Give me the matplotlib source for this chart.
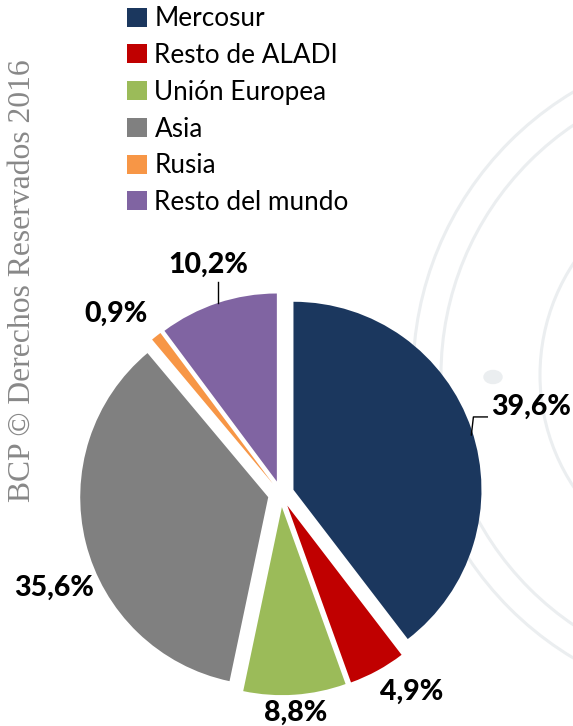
import matplotlib.pyplot as plt
import matplotlib.patches as mpatches
import numpy as np

# data
regiones = ['Mercosur', 'Resto de ALADI', 'Unión Europea', 'Asia', 'Rusia', 'Resto del mundo']
valores = [39.6, 4.9, 8.8, 35.6, 0.9, 10.2]
etiquetas = ['39,6%', '4,9%', '8,8%', '35,6%', '0,9%', '10,2%']
colores = ['#1b375e', '#c00000', '#9bbb59', '#808080', '#f79646', '#8064a2']

# label placement (radius, angle tweak in degrees)
lab_r = [1.408, 1.263, 1.168, 1.307, 1.299, 1.278]
lab_da = [0.5, 4.9, -0.1, 8.5, 4.2, -0.7]

W, H = 573, 726
fig = plt.figure(figsize=(W / 100, H / 100), dpi=100)

# faint seal watermark on the right
bg = fig.add_axes([0, 0, 1, 1])
bg.set_xlim(0, W)
bg.set_ylim(H, 0)
bg.axis('off')
for rr in [330, 302, 203]:
    bg.add_patch(mpatches.Circle((743, 375), rr, fill=False, ec='#ebeef0', lw=2.2))
bg.add_patch(mpatches.Ellipse((493, 377), 18, 13, color='#ebeef0'))

# watermark text
fig.text(22 / W, 1 - 281 / H, 'BCP © Derechos Reservados 2016', rotation=90,
         ha='center', va='center', fontsize=22.8, color='#888888',
         family='Liberation Serif')

# pie axes: center (281, 494) px, 188 px per unit
cx, cy, s = 281, 494, 188
half = 1.6
ax = fig.add_axes([(cx - half * s) / W, (H - cy - half * s) / H,
                   2 * half * s / W, 2 * half * s / H])

wedges, _ = ax.pie(valores, colors=colores, startangle=90, counterclock=False,
                   explode=[0.07] * len(valores), radius=1.0,
                   wedgeprops=dict(linewidth=0))
ax.set_xlim(-half, half)
ax.set_ylim(-half, half)
ax.set_aspect('equal')
ax.axis('off')

for w, lab, r, da in zip(wedges, etiquetas, lab_r, lab_da):
    mid = np.deg2rad((w.theta1 + w.theta2) / 2 + da)
    ax.text(r * np.cos(mid), r * np.sin(mid), lab, ha='center', va='center',
            fontsize=20.5, fontweight='black', family='Lato', color='black')

# leader lines for Mercosur and Resto del mundo
m = wedges[0]
a0 = np.deg2rad((m.theta1 + m.theta2) / 2 - 1.6)
ex, ey = m.center
p0 = (ex + 0.99 * np.cos(a0), ey + 0.99 * np.sin(a0))
ax.plot([p0[0], p0[0] + 0.011, p0[0] + 0.085], [p0[1], p0[1] + 0.096, p0[1] + 0.096],
        color='black', lw=1.0)
pw = wedges[5]
a5 = np.deg2rad((pw.theta1 + pw.theta2) / 2)
qx, qy = pw.center
q0 = (qx + 1.0 * np.cos(a5), qy + 1.0 * np.sin(a5))
ax.plot([q0[0], q0[0]], [q0[1], q0[1] + 0.112], color='black', lw=1.0)

fig.legend(wedges, regiones, loc='upper left', bbox_to_anchor=(109 / W, 1 + 12 / H),
           frameon=False, prop=dict(family='Lato', size=18.8),
           handlelength=0.74, handleheight=0.74, handletextpad=0.3,
           labelspacing=0.45, borderpad=0.2)

fig.savefig('out.png', dpi=100)
